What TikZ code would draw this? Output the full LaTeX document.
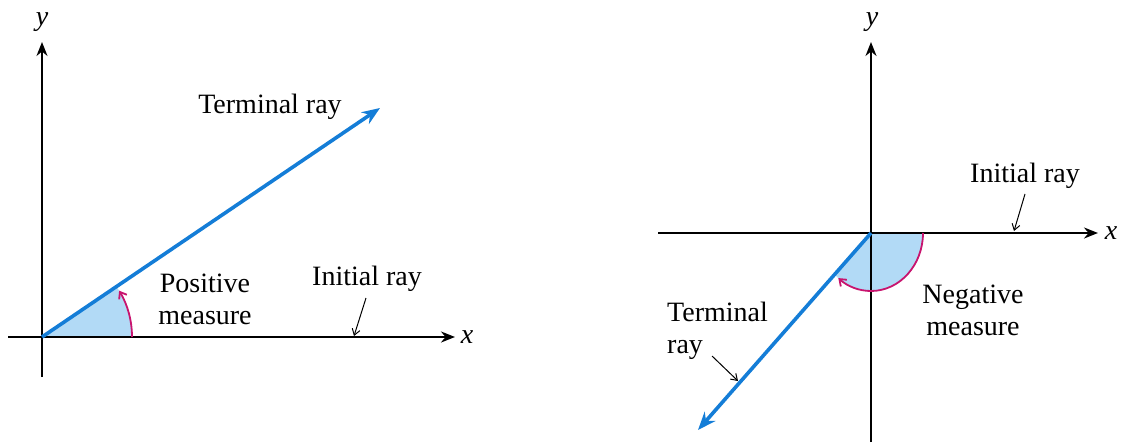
\documentclass[tikz,border=0pt]{standalone}
\usepackage{fontspec}
\setmainfont{Liberation Serif}
\usetikzlibrary{arrows.meta,calc}
\definecolor{rayblue}{RGB}{20,125,215}
\definecolor{fillblue}{RGB}{178,218,246}
\definecolor{arcmag}{RGB}{200,20,110}
\begin{document}
\begin{tikzpicture}[x=1pt,y=-1pt,font=\fontsize{28}{32}\selectfont,
  axis/.style={line width=1.8pt,-{Stealth[length=14pt,width=11pt]}},
  ray/.style={rayblue,line width=3.6pt,-{Stealth[length=18pt,width=14pt]}},
  anglearc/.style={arcmag,line width=1.8pt,-{Straight Barb[length=6pt,width=9pt]}},
  pointer/.style={line width=1pt,-{Straight Barb[length=6pt,width=8pt]}},
  lbl/.style={inner sep=0pt,align=center}]
\path[use as bounding box] (0,0) rectangle (1122,442);
% ---------- left diagram ----------
\coordinate (O1) at (42,337);
\coordinate (X1a) at (8,337);
\coordinate (X1b) at (455,337);
\coordinate (Y1a) at (42,377);
\coordinate (Y1b) at (42,42);
\coordinate (T1) at (380,108);
\fill[fillblue] (O1) -- ++(90,0) arc[start angle=0,end angle=-34.1,radius=90] -- cycle;
\draw[axis] (X1a) -- (X1b);
\draw[axis] (Y1a) -- (Y1b);
\node[lbl] (xl1) at (467,337) {\textit{x}};
\node[lbl] (yl1) at (42,22) {\textit{y}};
\draw[ray] (O1) -- (T1);
\draw[anglearc] ($(O1)+(90,0)$) arc[start angle=0,end angle=-31,radius=90];
\node[lbl] (term1) at (270,107) {Terminal ray};
\node[lbl] (pos) at (205,299) {Positive\\measure};
\node[lbl] (init1) at (367,279) {Initial ray};
\coordinate (p1s) at (366,298);
\coordinate (p1e) at (354,336);
\draw[pointer] (p1s) -- (p1e);
% ---------- right diagram ----------
\coordinate (O2) at (871,233);
\coordinate (X2a) at (658,233);
\coordinate (X2b) at (1098,233);
\coordinate (Y2a) at (871,442);
\coordinate (Y2b) at (871,42);
\coordinate (T2) at (698,430);
\fill[fillblue] (O2) -- ++(52,0) arc[start angle=0,end angle=134.4,x radius=52,y radius=58] -- cycle;
\draw[axis] (X2a) -- (X2b);
\draw[axis] (Y2a) -- (Y2b);
\node[lbl] (xl2) at (1111,233) {\textit{x}};
\node[lbl] (yl2) at (872,22) {\textit{y}};
\draw[ray] (O2) -- (T2);
\draw[anglearc] ($(O2)+(52,0)$) arc[start angle=0,end angle=129,x radius=52,y radius=58];
\node[lbl] (init2) at (1025,176) {Initial ray};
\coordinate (p2s) at (1025,194);
\coordinate (p2e) at (1014,231);
\draw[pointer] (p2s) -- (p2e);
\node[lbl] (neg) at (973,310) {Negative\\measure};
\node[lbl,align=left,anchor=north west] (term2) at (667,302) {Terminal\\ray};
\coordinate (p3s) at (712,356);
\coordinate (p3e) at (738,381);
\draw[pointer] (p3s) -- (p3e);
\end{tikzpicture}
\end{document}
